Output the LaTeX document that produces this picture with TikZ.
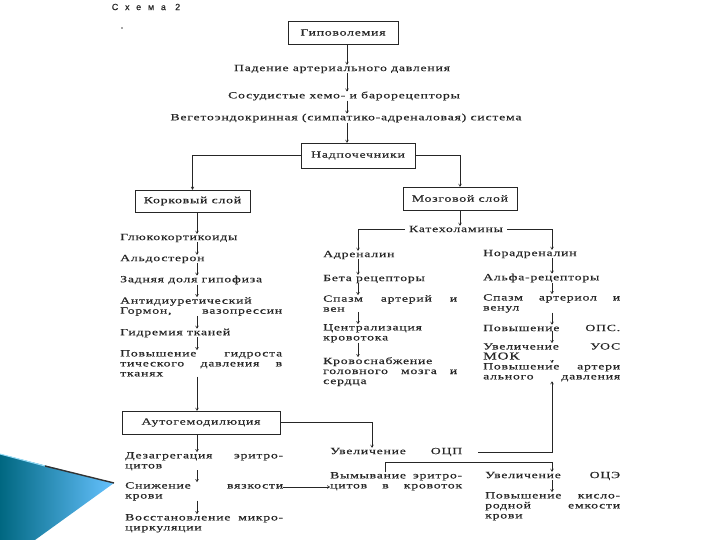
\documentclass[tikz,border=0pt]{standalone}
\usepackage{fontspec}
\setmainfont{Liberation Serif}
\newfontfamily\scanfont[FakeStretch=1.45,LetterSpace=8,FakeBold=0.4]{Liberation Serif}
\newfontfamily\headfont[LetterSpace=75,FakeBold=0.6]{Liberation Sans}
\usetikzlibrary{arrows.meta,calc}
\newcommand\jl[2]{\makebox[#1][s]{#2}}
\tikzset{
  txt/.style={font=\scanfont\fontsize{9.5}{10}\selectfont, inner sep=0pt, text=black!85, align=left},
  ctxt/.style={txt, align=center},
  box/.style={draw=black!85, line width=0.6pt, inner sep=0pt, font=\scanfont\fontsize{9.5}{10}\selectfont, text=black!85},
  ln/.style={draw=black!85, line width=0.6pt},
  arr/.style={ln, -{To[length=3pt,width=3.2pt]}},
}
\begin{document}
\begin{tikzpicture}[x=1pt,y=-1pt]
\useasboundingbox (0,0) rectangle (720,540);
% decoration
\shade[left color=black!10!teal!90!blue, right color=cyan!60!blue!60!white, shading angle=90]
  (0,454) -- (114,483) -- (35,540) -- (0,540) -- cycle;
\draw[line width=1.4pt, black!80] (45,466) -- (114,483);
\draw[line width=1pt, cyan!40!white] (0,454) -- (45,466);

\node[font=\headfont\fontsize{9}{10}\selectfont, inner sep=0pt, text=black!85] (schema) at (146,7) {Схема 2};
\fill[black!70] (122,28) circle (0.8pt);

% top chain
\coordinate (cT) at (347,0);
\node[box, minimum width=110pt, minimum height=23pt] (hypo) at (343,32.5) {Гиповолемия};
\node[ctxt] (fall) at (342,69) {Падение артериального давления};
\node[ctxt] (rec) at (344,96) {Сосудистые хемо- и барорецепторы};
\node[ctxt] (veg) at (346,118) {Вегетоэндокринная (симпатико-адреналовая) система};
\node[box, minimum width=114pt, minimum height=25pt] (adr) at (358,155.5) {Надпочечники};
\node[box, minimum width=115pt, minimum height=22pt] (cort) at (192.5,201) {Корковый слой};
\node[box, minimum width=114pt, minimum height=23pt] (medul) at (460,198.5) {Мозговой слой};

\draw[arr] (hypo.south -| cT) -- (fall.north -| cT);
\draw[arr] (fall.south -| cT) -- (rec.north -| cT);
\draw[arr] (rec.south -| cT) -- (veg.north -| cT);
\draw[arr] (veg.south -| cT) -- (adr.north -| cT);
\draw[arr] (adr.west) -| (cort.north);
\draw[arr] (adr.east) -| (medul.north);

% left column
\coordinate (cL) at (197,0);
\node[txt, anchor=west] (gluc) at (120,238) {Глюкокортикоиды};
\node[txt, anchor=west] (ald) at (120,259) {Альдостерон};
\node[txt, anchor=west] (pit) at (120,280) {Задняя доля гипофиза};
\node[txt, anchor=north west] (adh) at (120,297) {Антидиуретический\\ \jl{162pt}{Гормон, вазопрессин}};
\node[txt, anchor=west] (hyd) at (120,333) {Гидремия тканей};
\node[txt, anchor=north west] (hydro) at (120,350) {\jl{162pt}{Повышение гидроста}\\ \jl{162pt}{тического давления в}\\ тканях};
\node[box, minimum width=158pt, minimum height=23pt] (auto) at (201,422.5) {Аутогемодилюция};

\draw[arr] (cort.south -| cL) -- (gluc.north -| cL);
\draw[arr] (gluc.south -| cL) -- (ald.north -| cL);
\draw[arr] (ald.south -| cL) -- (pit.north -| cL);
\draw[arr] (pit.south -| cL) -- (adh.north -| cL);
\draw[arr] (adh.south -| cL) -- (hyd.north -| cL);
\draw[arr] (hyd.south -| cL) -- (hydro.north -| cL);
\draw[arr] (hydro.south -| cL) -- (auto.north -| cL);

% catecholamines
\node[ctxt] (kat) at (456,229) {Катехоламины};
\draw[arr] (medul.south) -- (kat.north -| medul.south);

% middle column
\coordinate (cM) at (358,0);
\node[txt, anchor=west] (adren) at (323,255) {Адреналин};
\node[txt, anchor=west] (beta) at (323,279) {Бета рецепторы};
\node[txt, anchor=north west] (sp1) at (323,295) {\jl{134pt}{Спазм артерий и}\\ вен};
\node[txt, anchor=north west] (centr) at (323,324) {Централизация\\ кровотока};
\node[txt, anchor=north west] (blood) at (323,357) {Кровоснабжение\\ \jl{134pt}{головного мозга и}\\ сердца};

\draw[arr, shorten <=4pt] (kat.west) -| (adren.north -| cM);
\draw[arr] (adren.south -| cM) -- (beta.north -| cM);
\draw[arr] (beta.south -| cM) -- (sp1.north -| cM);
\draw[arr] (sp1.south -| cM) -- (centr.north -| cM);
\draw[arr] (centr.south -| cM) -- (blood.north -| cM);

% right column
\coordinate (cR) at (552,0);
\node[txt, anchor=west] (noradr) at (483,254) {Норадреналин};
\node[txt, anchor=west] (alpha) at (483,278) {Альфа-рецепторы};
\node[txt, anchor=north west] (sp2) at (483,294) {\jl{137pt}{Спазм артериол и}\\ венул};
\node[txt, anchor=west] (ops) at (483,328) {\jl{137pt}{Повышение ОПС.}};
\node[txt, anchor=north west] (uos) at (483,343) {\jl{137pt}{Увеличение УОС}\\ {\fontsize{10.5}{10}\selectfont МОК}};
\node[txt, anchor=north west] (bp) at (483,363) {\jl{137pt}{Повышение артери}\\ \jl{137pt}{ального давления}};

\draw[arr, shorten <=4pt] (kat.east) -| (noradr.north -| cR);
\draw[arr] (noradr.south -| cR) -- (alpha.north -| cR);
\draw[arr] (alpha.south -| cR) -- (sp2.north -| cR);
\draw[arr] (sp2.south -| cR) -- (ops.north -| cR);
\draw[arr] (ops.south -| cR) -- (uos.north -| cR);
\draw[arr] (uos.south -| cR) -- (bp.north -| cR);

% bottom left
\node[txt, anchor=north west] (dez) at (125,452) {\jl{158pt}{Дезагрегация эритро-}\\ цитов};
\node[txt, anchor=north west] (snij) at (125,482) {\jl{158pt}{Снижение вязкости}\\ крови};
\node[txt, anchor=north west] (vosst) at (125,514) {\jl{158pt}{Восстановление микро-}\\ циркуляции};
\draw[arr] (auto.south -| cL) -- (dez.north -| cL);
\draw[arr] (dez.south -| cL) -- (snij.north -| cL);
\draw[arr] (snij.south -| cL) -- (vosst.north -| cL);

% bottom middle / right
\node[txt, anchor=west] (ocp) at (330,452) {\jl{132pt}{Увеличение ОЦП}};
\node[txt, anchor=north west] (vym) at (330,472) {\jl{132pt}{Вымывание эритро-}\\ \jl{132pt}{цитов в кровоток}};
\node[txt, anchor=west] (oce) at (485,476) {\jl{135pt}{Увеличение ОЦЭ}};
\node[txt, anchor=north west] (kisl) at (485,492) {\jl{135pt}{Повышение кисло-}\\ \jl{135pt}{родной емкости}\\ крови};

\coordinate (ocpx) at (372,0);
\coordinate (brx) at (385,0);
\coordinate (sy) at (0,487);
\draw[arr] (auto.east) -| (ocp.north -| ocpx);
\draw[arr, shorten <=16pt] (ocp.east) -| (bp.south -| cR);
\draw[arr] (vym.north -| brx) -- (385,462) -| (oce.north -| cR);
\draw[arr] (oce.south -| cR) -- (kisl.north -| cR);
\draw[arr] (snij.north east |- sy) -- (vym.west |- sy);
\end{tikzpicture}
\end{document}
